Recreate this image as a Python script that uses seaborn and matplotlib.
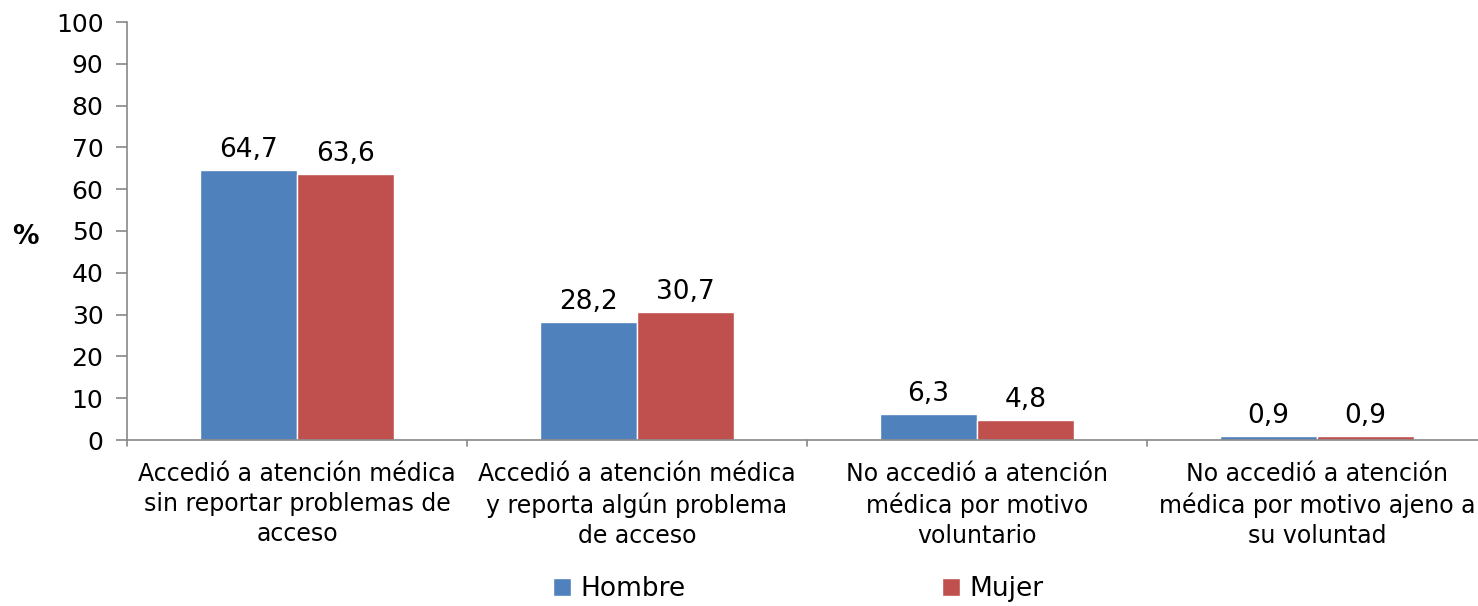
import matplotlib
matplotlib.use("Agg")
import matplotlib.pyplot as plt
import seaborn as sns
import pandas as pd
from matplotlib.patches import Patch

categories = [
    "Accedió a atención médica\nsin reportar problemas de\nacceso",
    "Accedió a atención médica\ny reporta algún problema\nde acceso",
    "No accedió a atención\nmédica por motivo\nvoluntario",
    "No accedió a atención\nmédica por motivo ajeno a\nsu voluntad",
]
hombre = [64.7, 28.2, 6.3, 0.9]
mujer = [63.6, 30.7, 4.8, 0.9]
series = ["Hombre", "Mujer"]
colors = ["#4F81BD", "#C0504D"]

df = pd.DataFrame({
    "cat": categories * 2,
    "val": hombre + mujer,
    "sexo": ["Hombre"] * 4 + ["Mujer"] * 4,
})

sns.set_theme(style="white")
plt.rcParams["font.family"] = ["DejaVu Sans"]

fig = plt.figure(figsize=(14.78, 6.06), dpi=100)
ax = fig.add_axes([127 / 1478, 166 / 606, 1360 / 1478, 418 / 606])

sns.barplot(data=df, x="cat", y="val", hue="sexo", palette=colors,
            width=0.57, saturation=1, ax=ax, legend=False, errorbar=None)

for cont in ax.containers:
    labels = [f"{v:.1f}".replace(".", ",") for v in cont.datavalues]
    ax.bar_label(cont, labels=labels, padding=5, fontsize=19, color="black")

ax.set_ylim(0, 100)
ax.set_xlim(-0.5, 3.5)
ax.set_yticks(range(0, 101, 10))
ax.tick_params(axis="y", labelsize=18, length=8, width=1.2, color="#888888",
               left=True, pad=9, labelcolor="black")
ax.set_xticks([0, 1, 2, 3])
ax.set_xticklabels(categories, fontsize=17, linespacing=1.3)
ax.tick_params(axis="x", length=0, pad=16, labelcolor="black")
# boundary ticks between categories
for b in [-0.5, 0.5, 1.5, 2.5, 3.5]:
    ax.plot([b, b], [0, -1.5], color="#888888", lw=1.2, clip_on=False,
            transform=ax.transData)

ax.set_xlabel("")
ax.set_ylabel("%", rotation=0, fontsize=19, fontweight="bold",
              color="black", va="center", ha="center")
ax.yaxis.set_label_coords(-0.075, 0.485)

for s in ["top", "right"]:
    ax.spines[s].set_visible(False)
for s in ["left", "bottom"]:
    ax.spines[s].set_color("#888888")
    ax.spines[s].set_linewidth(1.2)

handles = [Patch(facecolor=c, label=l) for c, l in zip(colors, series)]
fig.legend(handles=handles, loc="lower center", bbox_to_anchor=(0.540, -0.033),
           ncol=2, frameon=False, fontsize=19, columnspacing=9.7,
           handlelength=0.7, handleheight=0.7, handletextpad=0.35,
           labelcolor="black")

fig.savefig("out.png", dpi=100)
